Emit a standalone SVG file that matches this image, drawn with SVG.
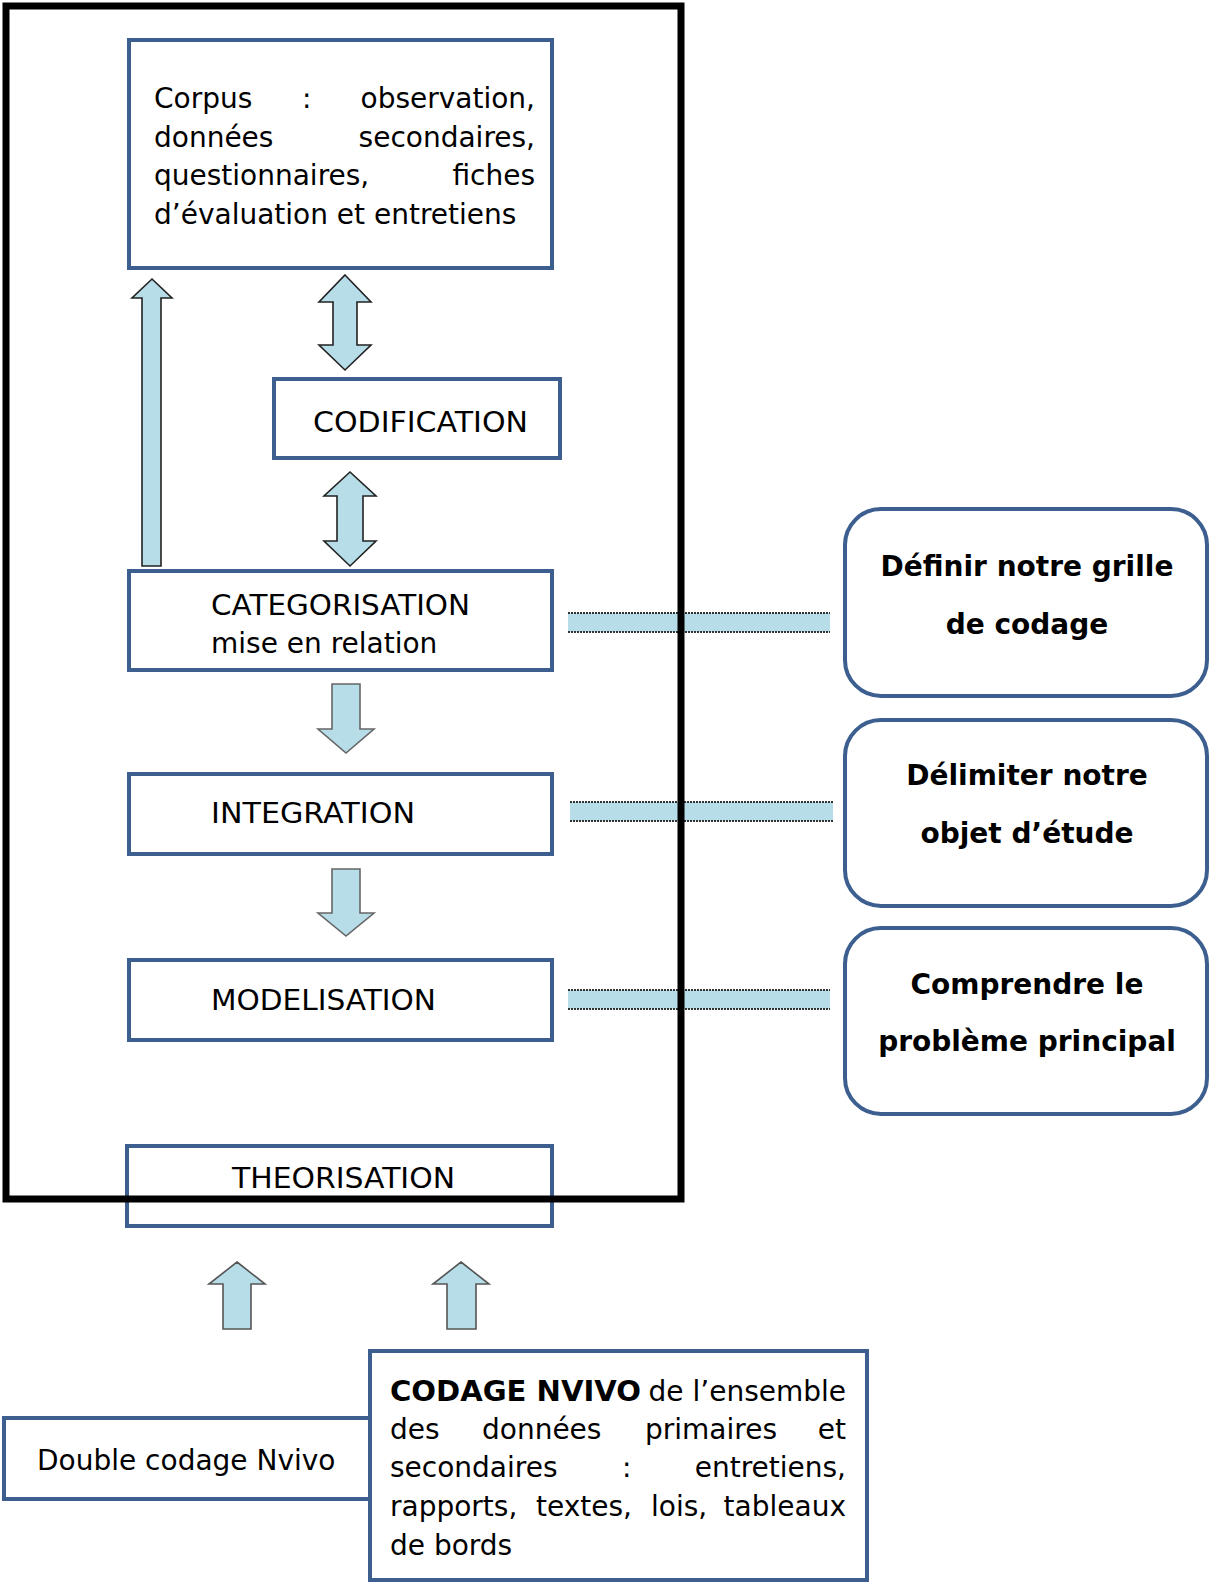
<svg xmlns="http://www.w3.org/2000/svg" width="1212" height="1582" viewBox="0 0 1212 1582">
<style>
.box{fill:#fff;stroke:#3C5F8F;stroke-width:4}
.rbox{fill:#fff;stroke:#3C5F8F;stroke-width:4}
.t{font-family:"DejaVu Sans",Verdana,sans-serif;font-size:28px;fill:#000}
.b{font-family:"DejaVu Sans",Verdana,sans-serif;font-size:28px;font-weight:bold;fill:#000}
.arr{fill:#B7DDE8;stroke:#222;stroke-width:1.6;stroke-linejoin:miter}
.bar{fill:#B7DDE8}
.barEdge{stroke:#333;stroke-width:2;stroke-dasharray:2 1}
</style>
<rect x="0" y="0" width="1212" height="1582" fill="#fff"/>

<g id="corpus">
<rect class="box" x="129" y="40" width="423" height="228"/>
<text class="t" x="154" y="108">Corpus</text>
<text class="t" x="302" y="108">:</text>
<text class="t" x="535" y="108" text-anchor="end">observation,</text>
<text class="t" x="154" y="147">données</text>
<text class="t" x="535" y="147" text-anchor="end">secondaires,</text>
<text class="t" x="154" y="185">questionnaires,</text>
<text class="t" x="535" y="185" text-anchor="end">fiches</text>
<text class="t" x="154" y="224">d’évaluation et entretiens</text>
</g>

<g id="codification">
<rect class="box" x="274" y="379" width="286" height="79"/>
<text class="t" x="313" y="432" textLength="215" lengthAdjust="spacingAndGlyphs">CODIFICATION</text>
</g>

<g id="categorisation">
<rect class="box" x="129" y="571" width="423" height="99"/>
<text class="t" x="211" y="615" textLength="259" lengthAdjust="spacingAndGlyphs">CATEGORISATION</text>
<text class="t" x="211" y="653">mise en relation</text>
</g>

<g id="integration">
<rect class="box" x="129" y="774" width="423" height="80"/>
<text class="t" x="211" y="823" textLength="204" lengthAdjust="spacingAndGlyphs">INTEGRATION</text>
</g>

<g id="modelisation">
<rect class="box" x="129" y="960" width="423" height="80"/>
<text class="t" x="211" y="1010" textLength="225" lengthAdjust="spacingAndGlyphs">MODELISATION</text>
</g>

<g id="theorisation">
<rect class="box" x="127" y="1146" width="425" height="80"/>
<text class="t" x="232" y="1188" textLength="223" lengthAdjust="spacingAndGlyphs">THEORISATION</text>
</g>

<g id="connectors">
<polygon class="arr" points="152,279 172,298 161,298 161,566 142,566 142,298 132,298"/>
<polygon class="arr" points="345,275 371,302 357,302 357,345 371,345 345,370 319,345 333,345 333,302 319,302"/>
<polygon class="arr" points="350,472 376,496 363,496 363,541 376,541 350,566 324,541 337,541 337,496 324,496"/>
<polygon class="arr" points="332,684 360,684 360,729 374,729 346,753 318,729 332,729" style="stroke:#666"/>
<polygon class="arr" points="332,869 360,869 360,913 374,913 346,936 318,913 332,913" style="stroke:#666"/>
<polygon class="arr" points="237,1262 265,1284 251,1284 251,1329 223,1329 223,1284 209,1284" style="stroke:#555"/>
<polygon class="arr" points="461,1262 489,1284 476,1284 476,1329 447,1329 447,1284 433,1284" style="stroke:#555"/>
<rect class="bar" x="568" y="613" width="262" height="19"/>
<line class="barEdge" x1="568" y1="613" x2="830" y2="613"/>
<line class="barEdge" x1="568" y1="632" x2="830" y2="632"/>
<rect class="bar" x="570" y="802" width="263" height="19"/>
<line class="barEdge" x1="570" y1="802" x2="833" y2="802"/>
<line class="barEdge" x1="570" y1="821" x2="833" y2="821"/>
<rect class="bar" x="568" y="990" width="262" height="19"/>
<line class="barEdge" x1="568" y1="990" x2="830" y2="990"/>
<line class="barEdge" x1="568" y1="1009" x2="830" y2="1009"/>
</g>

<g id="frame">
<rect x="6" y="6" width="675" height="1193" fill="none" stroke="#000" stroke-width="7"/>
</g>

<g id="grille">
<rect class="rbox" x="845" y="509" width="362" height="187" rx="36" ry="36"/>
<text class="b" x="1027" y="576" text-anchor="middle">Définir notre grille</text>
<text class="b" x="1027" y="634" text-anchor="middle">de codage</text>
</g>

<g id="objet">
<rect class="rbox" x="845" y="720" width="362" height="186" rx="36" ry="36"/>
<text class="b" x="1027" y="785" text-anchor="middle">Délimiter notre</text>
<text class="b" x="1027" y="843" text-anchor="middle">objet d’étude</text>
</g>

<g id="probleme">
<rect class="rbox" x="845" y="928" width="362" height="186" rx="36" ry="36"/>
<text class="b" x="1027" y="994" text-anchor="middle">Comprendre le</text>
<text class="b" x="1027" y="1051" text-anchor="middle">problème principal</text>
</g>

<g id="double">
<rect class="box" x="4" y="1418" width="366" height="81"/>
<text class="t" x="37" y="1470">Double codage Nvivo</text>
</g>

<g id="codage">
<rect class="box" x="370" y="1351" width="497" height="229"/>
<text class="b" x="390" y="1401" textLength="251" lengthAdjust="spacingAndGlyphs">CODAGE NVIVO</text>
<text class="t" x="846" y="1401" text-anchor="end">de l’ensemble</text>
<text class="t" x="390" y="1439">des</text>
<text class="t" x="482" y="1439">données</text>
<text class="t" x="645" y="1439">primaires</text>
<text class="t" x="846" y="1439" text-anchor="end">et</text>
<text class="t" x="390" y="1477">secondaires</text>
<text class="t" x="622" y="1477">:</text>
<text class="t" x="846" y="1477" text-anchor="end">entretiens,</text>
<text class="t" x="390" y="1516">rapports,</text>
<text class="t" x="536" y="1516">textes,</text>
<text class="t" x="651" y="1516">lois,</text>
<text class="t" x="846" y="1516" text-anchor="end">tableaux</text>
<text class="t" x="390" y="1555">de bords</text>
</g>
</svg>
